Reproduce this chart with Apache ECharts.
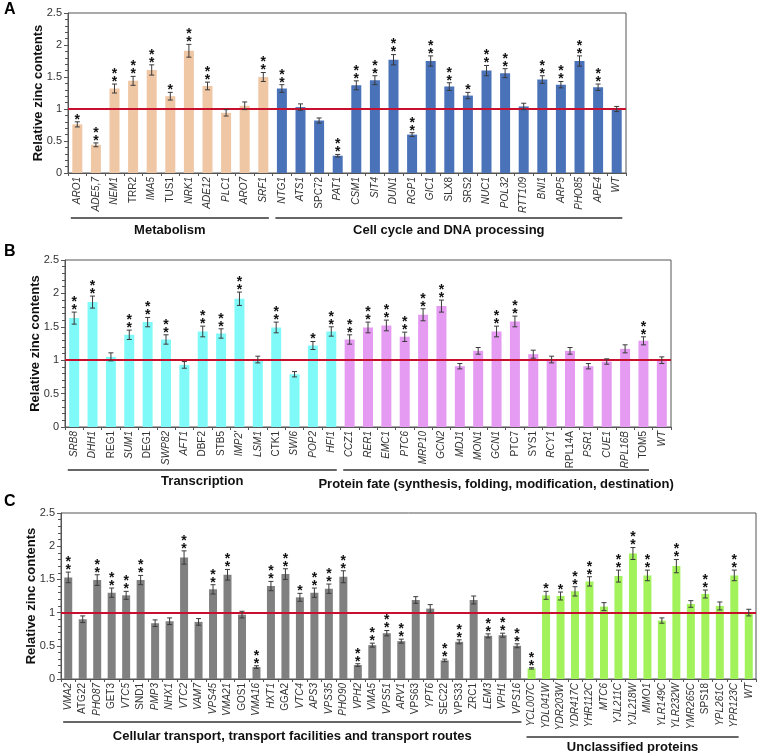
<!DOCTYPE html>
<html><head><meta charset="utf-8">
<script src="https://cdn.jsdelivr.net/npm/echarts@6/dist/echarts.min.js"></script>
<style>html,body{margin:0;padding:0;background:#fff}#c{width:759px;height:753px}</style>
</head><body><div id="c"></div>
<script>
// ---------- Panel A ----------
const catsA = ['ARO1','ADE5,7','NEM1','TRR2','IMA5','TUS1','NRK1','ADE12','PLC1','ARO7','SRF1',
  'NTG1','ATS1','SPC72','PAT1','CSM1','SIT4','DUN1','RGP1','GIC1','SLX8','SRS2','NUC1','POL32','RTT109','BNI1','ARP5','PHO85','APE4','WT'];
const valsA = [0.76,0.44,1.32,1.44,1.61,1.20,1.91,1.36,0.94,1.05,1.50,
  1.32,1.03,0.82,0.27,1.37,1.45,1.77,0.60,1.75,1.35,1.21,1.60,1.56,1.04,1.46,1.38,1.75,1.34,1.00];
const errA = [0.04,0.03,0.07,0.07,0.08,0.06,0.10,0.06,0.05,0.06,0.07,
  0.06,0.05,0.04,0.02,0.07,0.07,0.08,0.03,0.08,0.06,0.05,0.08,0.07,0.05,0.06,0.05,0.08,0.05,0.04];
const sigA = [1,2,2,2,2,1,2,2,0,0,2, 2,0,0,2,2,2,2,2,2,2,1,2,2,0,2,2,2,2,0];
const groupNamesA = ['Metabolism','Cell cycle and DNA processing'];
const groupCountsA = [11,19];
const normalA = ['TRR2','TUS1','SPC72','SLX8','SRS2'];

// ---------- Panel B ----------
const catsB = ['SRB8','DHH1','REG1','SUM1','DEG1','SWP82','AFT1','DBF2','STB5',"IMP2'",'LSM1','CTK1','SWI6','POP2','HFI1',
  'CCZ1','RER1','EMC1','PTC6','MRP10','GCN2','MDJ1','MON1','GCN1','PTC7','SYS1','RCY1','RPL14A','PSR1','CUE1','RPL16B','TOM5','WT'];
const valsB = [1.63,1.87,1.05,1.38,1.57,1.31,0.93,1.43,1.40,1.92,1.01,1.49,0.79,1.22,1.43,
  1.31,1.49,1.52,1.35,1.68,1.81,0.91,1.14,1.43,1.58,1.09,1.01,1.14,0.91,0.98,1.17,1.29,1.00];
const errB = [0.09,0.09,0.06,0.07,0.07,0.07,0.05,0.08,0.07,0.10,0.05,0.08,0.04,0.06,0.07,
  0.07,0.08,0.08,0.07,0.09,0.09,0.04,0.05,0.08,0.08,0.06,0.05,0.05,0.04,0.04,0.06,0.06,0.05];
const sigB = [2,2,0,2,2,2,0,2,2,2,0,2,0,1,2, 2,2,2,2,2,2,0,0,2,2,0,0,0,0,0,0,2,0];
const groupNamesB = ['Transcription','Protein fate (synthesis, folding, modification, destination)'];
const groupCountsB = [15,17];
const normalB = ['REG1','DEG1','DBF2','STB5','CTK1','PTC7','SYS1','RPL14A','TOM5'];

// ---------- Panel C ----------
const catsC = ['VMA2','ATG22','PHO87','GET3','VTC5','SND1','PMP3','NHX1','VTC2','VAM7','VPS45','VMA21','GOS1','VMA16','HXT1','GGA2',
  'VTC4','APS3','VPS35','PHO90','VPH2','VMA5','VPS51','ARV1','VPS63','YPT6','SEC22','VPS33','ZRC1','LEM3','VPH1','VPS16',
  'YCL007C','YDL041W','YDR203W','YDR417C','YHR112C','MTC6','YJL211C','YJL218W','MMO1','YLR149C','YLR232W','YMR265C','SPS18','YPL261C','YPR123C','WT'];
const valsC = [1.53,0.90,1.49,1.30,1.26,1.49,0.84,0.87,1.83,0.86,1.35,1.57,0.97,0.18,1.40,1.58,
  1.23,1.30,1.36,1.54,0.21,0.51,0.69,0.57,1.19,1.06,0.28,0.56,1.19,0.65,0.66,0.50,
  0.16,1.26,1.25,1.32,1.47,1.09,1.55,1.89,1.56,0.88,1.70,1.13,1.28,1.10,1.56,1.00];
const errC = [0.08,0.05,0.08,0.07,0.06,0.07,0.05,0.05,0.10,0.05,0.07,0.08,0.05,0.02,0.07,0.08,
  0.06,0.07,0.07,0.09,0.02,0.03,0.04,0.03,0.05,0.06,0.02,0.03,0.06,0.03,0.03,0.03,
  0.01,0.06,0.06,0.07,0.07,0.06,0.09,0.09,0.08,0.04,0.10,0.05,0.06,0.06,0.08,0.05];
const sigC = [2,0,2,2,2,2,0,0,2,0,2,2,0,2,2,2, 1,2,2,2,2,2,2,2,0,0,2,2,0,2,2,2,
  2,1,1,2,2,0,2,2,2,0,2,0,2,0,2,0];
const groupNamesC = ['Cellular transport, transport facilities and transport routes','Unclassified proteins'];
const groupCountsC = [32,15];
const normalC = ['ATG22','GET3','SND1','GOS1','GGA2','VPS63','SEC22','VPS33','ZRC1','SPS18'];

const yTicks = [0,0.5,1,1.5,2,2.5];

// ---------- layout / styles ----------
const FONT = '"Liberation Sans", Arial, sans-serif';
const panels = [
  {cats:catsA, vals:valsA, errs:errA, sig:sigA, names:groupNamesA, counts:groupCountsA, normal:normalA,
   colors:['#EFC7A5','#4A72B8'], grid:{left:68, right:133, top:13, height:160}, barW:10, letter:'A', letterY:2,
   lineY:[218,218], textY:[230,230]},
  {cats:catsB, vals:valsB, errs:errB, sig:sigB, names:groupNamesB, counts:groupCountsB, normal:normalB,
   colors:['#80FAF8','#E59BF2'], grid:{left:65, right:88, top:260, height:167}, barW:10, letter:'B', letterY:244,
   lineY:[470,470], textY:[481,484]},
  {cats:catsC, vals:valsC, errs:errC, sig:sigC, names:groupNamesC, counts:groupCountsC, normal:normalC,
   colors:['#808080','#A2F25C'], grid:{left:61, right:3, top:513, height:166}, barW:8, letter:'C', letterY:494,
   lineY:[722,737], textY:[736,747]}
];

const grids=[], xAxes=[], yAxes=[], series=[];
panels.forEach((p, k) => {
  grids.push(Object.assign({show:true, borderColor:'#555', borderWidth:1, backgroundColor:'transparent'}, p.grid));
  xAxes.push({type:'category', gridIndex:k, data:p.cats,
    axisLine:{lineStyle:{color:'#555', width:1}},
    axisTick:{show:true, length:3, lineStyle:{color:'#555'}},
    axisLabel:{rotate:90, margin:4, interval:0,
      formatter: v => (p.normal.indexOf(v) >= 0 ? '{n|' + v + '}' : '{i|' + v + '}'),
      rich:{n:{fontFamily:FONT, fontSize:10, color:'#333', fontStyle:'normal'},
            i:{fontFamily:FONT, fontSize:10, color:'#333', fontStyle:'italic'}}}
  });
  yAxes.push({type:'value', gridIndex:k, min:yTicks[0], max:yTicks[yTicks.length-1], interval:0.5,
    name:'Relative zinc contents', nameLocation:'middle', nameGap:23, nameMoveOverlap:false,
    nameTextStyle:{fontFamily:FONT, fontSize:13, fontWeight:'bold', color:'#111'},
    axisLine:{show:true, lineStyle:{color:'#555'}},
    axisTick:{show:true, length:4, lineStyle:{color:'#555'}},
    minorTick:{show:true, splitNumber:5, length:3, lineStyle:{color:'#555'}},
    splitLine:{show:false},
    axisLabel:{fontFamily:FONT, fontSize:11, color:'#333', margin:6,
      formatter: v => String(v)}
  });
  const lastColor = p.colors[p.colors.length-1];
  const colorOf = i => {
    let acc = 0;
    for (let g = 0; g < p.counts.length; g++) { acc += p.counts[g]; if (i < acc) return p.colors[g]; }
    return lastColor;
  };
  series.push({type:'bar', xAxisIndex:k, yAxisIndex:k, barWidth:p.barW,
    data: p.vals.map((v,i) => ({value:v, itemStyle:{color:colorOf(i)}})),
    markLine:{silent:true, symbol:'none', label:{show:false},
      lineStyle:{color:'#C8102E', width:2, type:'solid'}, data:[{yAxis:1}]},
    z:2});
  series.push({type:'custom', xAxisIndex:k, yAxisIndex:k, z:5,
    data: p.vals.map((v,i) => [i, v, p.errs[i], p.sig[i]]),
    encode:{x:0, y:1},
    renderItem: function(params, api){
      const i = api.value(0), v = api.value(1), e = api.value(2), s = api.value(3);
      const t = api.coord([i, v + e]), b = api.coord([i, v - e]);
      const cap = 2.5, st = {stroke:'#3a3a3a', lineWidth:1};
      const ch = [
        {type:'line', shape:{x1:t[0], y1:t[1], x2:b[0], y2:b[1]}, style:st},
        {type:'line', shape:{x1:t[0]-cap, y1:t[1], x2:t[0]+cap, y2:t[1]}, style:st},
        {type:'line', shape:{x1:b[0]-cap, y1:b[1], x2:b[0]+cap, y2:b[1]}, style:st}
      ];
      if (s > 0) {
        ch.push({type:'text', style:{text: s === 2 ? '*\n*' : '*', x:t[0], y:t[1] + 2,
          align:'center', verticalAlign:'bottom', fontFamily:FONT, fontSize:14, fontWeight:'bold',
          lineHeight:8, fill:'#111'}});
      }
      return {type:'group', children:ch};
    }
  });
});

const chart = echarts.init(document.getElementById('c'));
chart.setOption({animation:false, backgroundColor:'#fff', grid:grids, xAxis:xAxes, yAxis:yAxes, series:series});

// group annotations positioned from the category axes
const graphics = [];
panels.forEach((p, k) => {
  graphics.push({type:'text', left:4, top:p.letterY,
    style:{text:p.letter, fontFamily:FONT, fontSize:16, fontWeight:'bold', fill:'#000'}});
  const c0 = chart.convertToPixel({xAxisIndex:k}, p.cats[0]);
  const c1 = chart.convertToPixel({xAxisIndex:k}, p.cats[1]);
  const band = c1 - c0;
  let start = 0;
  p.counts.forEach((n, g) => {
    const a = chart.convertToPixel({xAxisIndex:k}, p.cats[start]) - 0.35*band;
    const b = chart.convertToPixel({xAxisIndex:k}, p.cats[start+n-1]) + 0.3*band;
    graphics.push({type:'line', shape:{x1:a, y1:p.lineY[g], x2:b, y2:p.lineY[g]},
      style:{stroke:'#333', lineWidth:1.3}});
    graphics.push({type:'text', x:(a+b)/2, y:p.textY[g],
      style:{text:p.names[g], fontFamily:FONT, fontSize:13, fontWeight:'bold', fill:'#111',
        align:'center', verticalAlign:'middle'}});
    start += n;
  });
});
chart.setOption({graphic:graphics});
</script>
</body></html>
